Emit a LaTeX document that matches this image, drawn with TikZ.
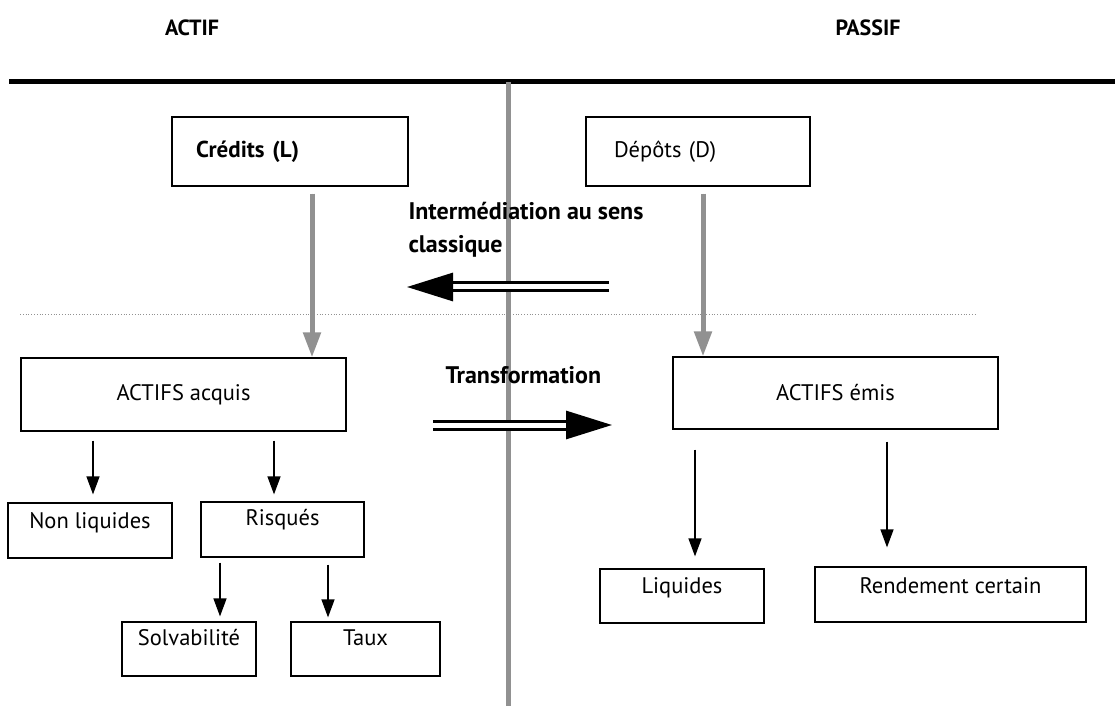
\documentclass[tikz,border=0pt]{standalone}
\usepackage{fontspec}
\setmainfont{PT Sans}
\usetikzlibrary{arrows.meta}
\definecolor{grisligne}{RGB}{145,145,145}
\tikzset{
  boite/.style={draw, line width=1.2pt, inner sep=0pt, font=\fontsize{22.5}{26}\selectfont},
  texthaut/.style={text height=14pt, text depth=#1},
  fleche/.style={-{Triangle[width=13pt,length=18pt]}, line width=1.3pt},
  gfleche/.style={-{Triangle[width=17pt,length=25pt]}, line width=5pt, draw=grisligne, fill=grisligne},
  dfleche/.style={double, double distance=5pt, line width=3pt, -{Triangle[width=28pt,length=46pt]}},
  titre/.style={font=\bfseries\fontsize{22}{26}\selectfont},
  gras/.style={font=\bfseries\fontsize{24}{33}\selectfont}
}
\begin{document}
\begin{tikzpicture}[x=1pt, y=-1pt]
    \useasboundingbox (0,0) rectangle (1115,708);
    % 1. Titres et séparations
    \node[titre] (actif) at (192,28) {ACTIF};
    \node[titre] (passif) at (868,28) {PASSIF};
    \draw[line width=5pt] (9,82) -- (1115,82);
    \draw[line width=5pt, grisligne] (508,82) -- (508,706);
    \draw[grisligne, dotted, line width=0.8pt] (20,314) -- (977,314);

    % 2. Boîtes du haut
    \node[boite, font=\bfseries\fontsize{23}{26}\selectfont, text width=188pt, inner xsep=24pt, align=left, minimum height=69pt] (credits) at (290,151.5) {Crédits (L)};
    \node[boite, text width=168pt, inner xsep=28pt, align=left, minimum height=69pt] (depots) at (698,151.5) {Dépôts (D)};

    % 3. Boîtes ACTIFS
    \node[boite, minimum width=325pt, minimum height=73pt] (acquis) at (183.5,394.5) {ACTIFS acquis};
    \node[boite, minimum width=325pt, minimum height=72pt] (emis) at (835.5,393) {ACTIFS émis};

    % 4. Caractéristiques
    \node[boite, texthaut=18pt, minimum width=164pt, minimum height=55pt] (nonliq) at (90,530.5) {Non liquides};
    \node[boite, texthaut=22pt, minimum width=163pt, minimum height=55pt] (risques) at (282.5,529.5) {Risqués};
    \node[boite, texthaut=21pt, minimum width=134pt, minimum height=54pt] (solv) at (189,649) {Solvabilité};
    \node[boite, texthaut=21pt, minimum width=149pt, minimum height=54pt] (taux) at (365.5,649) {Taux};
    \node[boite, texthaut=19pt, minimum width=164pt, minimum height=54pt] (liquides) at (682,596) {Liquides};
    \node[boite, texthaut=16pt, minimum width=271pt, minimum height=55pt] (rendement) at (950.5,594.5) {Rendement certain};

    % 5. Flèches grises
    \draw[gfleche] ([xshift=22pt,yshift=-7pt]credits.south) coordinate (c1) -- (c1 |- acquis.north);
    \draw[gfleche] ([xshift=5pt,yshift=-7pt]depots.south) coordinate (d1) -- (d1 |- emis.north);

    % 6. Flèches noires
    \draw[fleche, shorten >=8pt] ([xshift=-90.5pt,yshift=-9pt]acquis.south) coordinate (a1) -- (a1 |- nonliq.north);
    \draw[fleche, shorten >=7pt] ([xshift=90.5pt,yshift=-9pt]acquis.south) coordinate (a2) -- (a2 |- risques.north);
    \draw[fleche, shorten >=5pt] ([xshift=-62.5pt,yshift=-5pt]risques.south) coordinate (r1) -- (r1 |- solv.north);
    \draw[fleche, shorten >=4pt] ([xshift=45.5pt,yshift=-7pt]risques.south) coordinate (r2) -- (r2 |- taux.north);
    \draw[fleche, shorten >=12pt] ([xshift=-140.5pt,yshift=-20pt]emis.south) coordinate (e1) -- (e1 |- liquides.north);
    \draw[fleche, shorten >=19pt] ([xshift=51.5pt,yshift=-12pt]emis.south) coordinate (e2) -- (e2 |- rendement.north);

    % 7. Intermédiation et transformation
    \node[gras, anchor=north west, align=left] (interm) at (405,199) {Intermédiation au sens\\classique};
    \coordinate (i1) at (609,287);
    \coordinate (i2) at (407,287);
    \draw[dfleche] (i1) -- (i2);
    \node[gras, anchor=base west] (transf) at (442,383) {Transformation};
    \coordinate (t1) at (433,425);
    \coordinate (t2) at (612,425);
    \draw[dfleche] (t1) -- (t2);
\end{tikzpicture}
\end{document}
